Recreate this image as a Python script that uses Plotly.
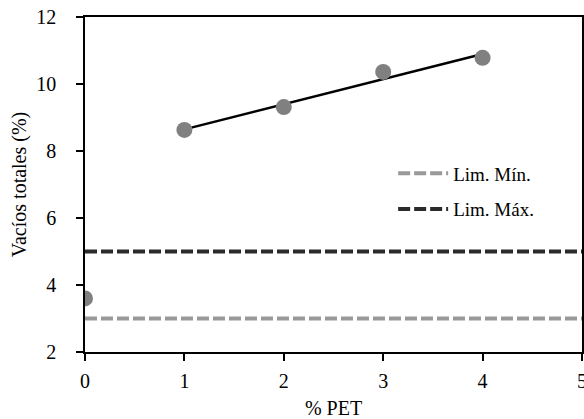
import numpy as np
import plotly.graph_objects as go

pet = [0, 1, 2, 3, 4]
vacios = [3.6, 8.63, 9.31, 10.36, 10.78]
lim_min = 3
lim_max = 5
x_range = [0, 5]
y_range = [2, 12]

fit_x = pet[1:]
fit_y = vacios[1:]
m, b = np.polyfit(fit_x, fit_y, 1)
line_x = [fit_x[0], fit_x[-1]]
line_y = [m * v + b for v in line_x]

font = "Liberation Serif, Times New Roman, serif"

fig = go.Figure()
fig.add_trace(go.Scatter(x=x_range, y=[lim_min, lim_min], mode="lines",
                         line=dict(color="#999999", width=4, dash="12px,4px"),
                         name="Lim. Mín.", legendgroup="a"))
fig.add_trace(go.Scatter(x=x_range, y=[lim_max, lim_max], mode="lines",
                         line=dict(color="#2b2b2b", width=4, dash="12px,4px"),
                         name="Lim. Máx.", legendgroup="b"))
fig.add_trace(go.Scatter(x=line_x, y=line_y, mode="lines",
                         line=dict(color="black", width=2.5), showlegend=False))
fig.add_trace(go.Scatter(x=pet, y=vacios, mode="markers",
                         marker=dict(color="#808080", size=16), showlegend=False))

axis_common = dict(showline=True, linecolor="black", linewidth=1.5, mirror=True,
                   ticks="outside", ticklen=7, tickcolor="black", tickwidth=1.5,
                   showgrid=False, zeroline=False, automargin=False,
                   ticklabeloverflow="allow",
                   tickfont=dict(family=font, size=20, color="black"))
fig.update_xaxes(range=x_range, dtick=1, ticklabelstandoff=3,
                 title=dict(text="% PET", font=dict(family=font, size=20, color="black"), standoff=12),
                 **axis_common)
fig.update_yaxes(range=y_range, dtick=2, ticklabelstandoff=16,
                 title=dict(text="Vacíos totales (%)", font=dict(family=font, size=20, color="black"), standoff=4),
                 **axis_common)

fig.update_layout(
    width=584, height=419,
    margin=dict(l=85, r=2, t=17, b=67),
    plot_bgcolor="white", paper_bgcolor="white",
    legend=dict(x=0.62, y=0.59, xanchor="left", yanchor="top",
                font=dict(family=font, size=19, color="black"),
                bgcolor="rgba(0,0,0,0)", tracegroupgap=8, itemwidth=50),
)
fig.write_html(
    "out.html",
    config={"displayModeBar": False},
    post_script="document.body.style.margin='0px';document.body.style.overflow='hidden';",
)
